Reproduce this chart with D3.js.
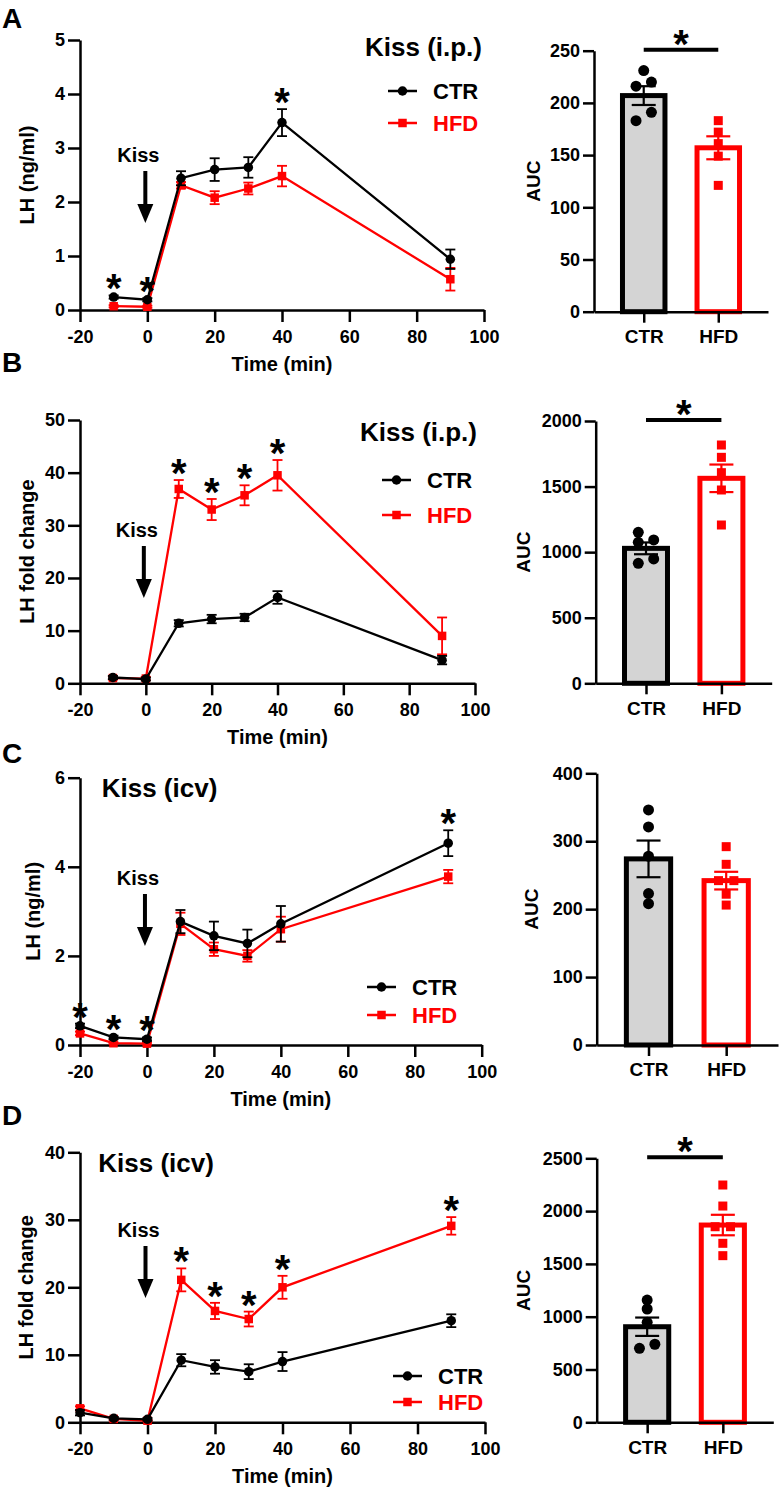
<!DOCTYPE html>
<html>
<head>
<meta charset="utf-8">
<script src="https://cdn.jsdelivr.net/npm/d3@7"></script>
<style>
  body { margin: 0; background: #fff; }
  text { font-family: "Liberation Sans", Arial, sans-serif; font-weight: bold; }
</style>
</head>
<body>
<div id="chart"></div>
<script>
// ---------- data ----------
const groups = ["CTR", "HFD"];
const xTicks = [-20, 0, 20, 40, 60, 80, 100];

// A: LH (ng/ml), Kiss i.p.
const timeA = [-10, 0, 10, 20, 30, 40, 90];
const ctrA = [0.24, 0.19, 2.44, 2.60, 2.64, 3.47, 0.94];
const ctrA_sem = [0.03, 0.03, 0.13, 0.21, 0.19, 0.25, 0.18];
const hfdA = [0.07, 0.06, 2.31, 2.08, 2.25, 2.48, 0.57];
const hfdA_sem = [0.02, 0.02, 0.06, 0.12, 0.11, 0.19, 0.21];
const starsA = [-10, 0, 40];
const yTicksA = [0, 1, 2, 3, 4, 5];
const aucCtrA = [231, 220, 216, 191, 183];
const aucHfdA = [183, 172, 161, 149, 121];
const aucMeanA = [207, 157];
const aucSemA = [9, 11];
const aucTicksA = [0, 50, 100, 150, 200, 250];

// B: LH fold change, Kiss i.p.
const timeB = [-10, 0, 10, 20, 30, 40, 90];
const ctrB = [1.1, 0.8, 11.4, 12.2, 12.5, 16.3, 4.4];
const ctrB_sem = [0.3, 0.3, 0.6, 0.8, 0.7, 1.2, 0.8];
const hfdB = [1.0, 0.9, 36.9, 33.0, 35.7, 39.5, 9.0];
const hfdB_sem = [0.3, 0.3, 1.7, 2.0, 1.9, 2.9, 3.5];
const starsB = [10, 20, 30, 40];
const yTicksB = [0, 10, 20, 30, 40, 50];
const aucCtrB = [1151, 1093, 1075, 948, 915];
const aucHfdB = [1817, 1723, 1606, 1474, 1207];
const aucMeanB = [1029, 1563];
const aucSemB = [45, 105];
const aucTicksB = [0, 500, 1000, 1500, 2000];

// C: LH (ng/ml), Kiss icv
const timeC = [-20, -10, 0, 10, 20, 30, 40, 90];
const ctrC = [0.43, 0.17, 0.13, 2.77, 2.45, 2.28, 2.72, 4.53];
const ctrC_sem = [0.05, 0.04, 0.04, 0.26, 0.32, 0.31, 0.40, 0.29];
const hfdC = [0.26, 0.04, 0.03, 2.72, 2.15, 2.00, 2.60, 3.78];
const hfdC_sem = [0.04, 0.02, 0.02, 0.25, 0.15, 0.13, 0.28, 0.15];
const starsC = [-20, -10, 0, 90];
const yTicksC = [0, 2, 4, 6];
const aucCtrC = [346, 321, 278, 223, 208];
const aucHfdC = [292, 266, 242, 242, 222, 206];
const aucMeanC = [274, 242];
const aucSemC = [27, 13];
const aucTicksC = [0, 100, 200, 300, 400];

// D: LH fold change, Kiss icv
const timeD = [-20, -10, 0, 10, 20, 30, 40, 90];
const ctrD = [1.42, 0.59, 0.44, 9.2, 8.2, 7.5, 9.0, 15.05];
const ctrD_sem = [0.4, 0.2, 0.2, 0.9, 1.0, 1.1, 1.4, 0.95];
const hfdD = [2.07, 0.5, 0.24, 21.1, 16.5, 15.3, 20.0, 29.1];
const hfdD_sem = [0.3, 0.2, 0.1, 1.7, 1.2, 1.1, 1.7, 1.3];
const starsD = [10, 20, 30, 40, 90];
const yTicksD = [0, 10, 20, 30, 40];
const aucCtrD = [1158, 1073, 947, 739, 701];
const aucHfdD = [2247, 2048, 1852, 1852, 1695, 1578];
const aucMeanD = [905, 1868];
const aucSemD = [87, 97];
const aucTicksD = [0, 500, 1000, 1500, 2000, 2500];

// ---------- drawing ----------
const RED = "#ff0000";
const plain = d => String(d);   // "-20", "2000" like the original
const svg = d3.select("#chart").append("svg")
  .attr("width", 780).attr("height", 1490)
  .style("background", "#fff");

function styleAxis(sel) {
  sel.select(".domain").attr("stroke", "#000").attr("stroke-width", 2.5);
  sel.selectAll(".tick line").attr("stroke", "#000").attr("stroke-width", 2.5);
  sel.selectAll(".tick text")
    .attr("fill", "#000")
    .style("font-size", "18px")
    .style("font-family", "'Liberation Sans', Arial, sans-serif")
    .style("font-weight", "bold");
}

function star(g, cx, cy) {
  g.append("text")
    .attr("x", cx).attr("y", cy + 22)
    .attr("text-anchor", "middle")
    .style("font-size", "40px")
    .text("*");
}

function marker(g, shape, cx, cy, color, size) {
  if (shape === "circle") {
    g.append("circle").attr("cx", cx).attr("cy", cy).attr("r", size / 2).attr("fill", color);
  } else {
    g.append("rect").attr("x", cx - size / 2).attr("y", cy - size / 2)
      .attr("width", size).attr("height", size).attr("fill", color);
  }
}

function linePanel(p) {
  const x = d3.scaleLinear().domain([-20, 100]).range([80, p.right]);
  const y = d3.scaleLinear().domain([0, p.yMax]).range([p.bottom, p.top]);
  const g = svg.append("g");

  g.append("g").attr("transform", `translate(0,${p.bottom})`)
    .call(d3.axisBottom(x).tickValues(xTicks).tickFormat(plain).tickSize(12).tickPadding(8).tickSizeOuter(0))
    .call(styleAxis);
  g.append("g").attr("transform", "translate(80,0)")
    .call(d3.axisLeft(y).tickValues(p.yTicks).tickFormat(plain).tickSize(12).tickPadding(3).tickSizeOuter(0))
    .call(styleAxis);

  const series = [
    { vals: p.hfd, errs: p.hfdErr, color: RED, shape: "square" },
    { vals: p.ctr, errs: p.ctrErr, color: "#000", shape: "circle" }
  ];
  series.forEach(s => {
    const pts = p.times.map((t, i) => ({ t, v: s.vals[i], e: s.errs[i] }));
    const eb = g.append("g").attr("stroke", s.color).attr("stroke-width", 1.8);
    pts.forEach(d => {
      const cx = x(d.t), y1 = y(Math.max(0, d.v - d.e)), y2 = y(d.v + d.e);
      eb.append("line").attr("x1", cx).attr("x2", cx).attr("y1", y1).attr("y2", y2);
      eb.append("line").attr("x1", cx - 5).attr("x2", cx + 5).attr("y1", y1).attr("y2", y1);
      eb.append("line").attr("x1", cx - 5).attr("x2", cx + 5).attr("y1", y2).attr("y2", y2);
    });
    g.append("path").datum(pts)
      .attr("fill", "none").attr("stroke", s.color).attr("stroke-width", 2.3)
      .attr("d", d3.line().x(d => x(d.t)).y(d => y(d.v)));
    pts.forEach(d => marker(g, s.shape, x(d.t), y(d.v), s.color, s.shape === "circle" ? 9.5 : 8.5));
  });

  // significance stars above the highest error bar
  p.stars.forEach(t => {
    const i = p.times.indexOf(t);
    const top = Math.min(y(p.ctr[i] + p.ctrErr[i]), y(p.hfd[i] + p.hfdErr[i]));
    star(g, x(t), top - 15);
  });

  // Kiss arrow
  const ax = x(0) - 2;
  g.append("text").attr("x", x(0) - 9).attr("y", p.kissY).attr("dy", "0.35em")
    .attr("text-anchor", "middle").style("font-size", "20px").text("Kiss");
  g.append("line").attr("x1", ax).attr("x2", ax)
    .attr("y1", p.kissY + 16).attr("y2", p.kissY + 52)
    .attr("stroke", "#000").attr("stroke-width", 4);
  g.append("path")
    .attr("d", `M${ax - 8},${p.kissY + 49}L${ax + 8},${p.kissY + 49}L${ax},${p.kissY + 68}Z`)
    .attr("fill", "#000");

  // title
  g.append("text").attr("x", p.titleX).attr("y", p.titleY).attr("dy", "0.35em")
    .attr("text-anchor", p.titleAnchor).style("font-size", "26px").text(p.title);

  // legend
  const leg = [["CTR", "#000", "circle"], ["HFD", RED, "square"]];
  leg.forEach((l, i) => {
    const ly = p.legY + i * p.legGap;
    g.append("line").attr("x1", p.legX).attr("x2", p.legX + 29).attr("y1", ly).attr("y2", ly)
      .attr("stroke", l[1]).attr("stroke-width", 2.5);
    marker(g, l[2], p.legX + 14.5, ly, l[1], l[2] === "circle" ? 9.5 : 8.5);
    g.append("text").attr("x", p.legX + 45).attr("y", ly).attr("dy", "0.36em")
      .attr("fill", l[1]).style("font-size", "22px").text(l[0]);
  });

  // axis titles
  g.append("text").attr("transform", `translate(${p.ylabX},${(p.top + p.bottom) / 2}) rotate(-90)`)
    .attr("dy", "0.35em").attr("text-anchor", "middle").style("font-size", "20px").text(p.ylabel);
  g.append("text").attr("x", (80 + p.right) / 2).attr("y", p.bottom + 54).attr("dy", "0.35em")
    .attr("text-anchor", "middle").style("font-size", "20px").text("Time (min)");

  // panel letter
  g.append("text").attr("x", 2).attr("y", p.letterY).style("font-size", "28px").text(p.letter);
}

// spread overlapping dots sideways like a column scatter
function spread(vals, y) {
  const order = vals.map((v, i) => i).sort((a, b) => vals[b] - vals[a]);
  const off = new Array(vals.length).fill(0);
  let cluster = [order[0]];
  const flush = () => {
    const k = cluster.length;
    if (k > 1) cluster.forEach((idx, j) => { off[idx] = ((k - 1 - j) % 2 === 0 ? -1 : 1) * 7.7; });
  };
  for (let j = 1; j < order.length; j++) {
    const prev = order[j - 1], cur = order[j];
    if (Math.abs(y(vals[cur]) - y(vals[prev])) < 8.5) cluster.push(cur);
    else { flush(); cluster = [cur]; }
  }
  flush();
  return off;
}

function barPanel(p) {
  const x = d3.scalePoint().domain(groups).range([p.left, p.right]).padding(0.667);
  const y = d3.scaleLinear().domain([0, p.yMax]).range([p.bottom, p.top]);
  const g = svg.append("g");
  const bw = 0.57 * x.step();

  const defs = [
    { name: "CTR", pts: p.ctrPts, mean: p.mean[0], sem: p.sem[0], color: "#000", fill: "#d4d4d4", shape: "circle" },
    { name: "HFD", pts: p.hfdPts, mean: p.mean[1], sem: p.sem[1], color: RED, fill: "#fff", shape: "square" }
  ];
  defs.forEach(d => {
    const cx = x(d.name);
    g.append("rect").attr("x", cx - bw / 2).attr("y", y(d.mean))
      .attr("width", bw).attr("height", p.bottom - y(d.mean))
      .attr("fill", d.fill).attr("stroke", d.color).attr("stroke-width", 5);
  });

  g.append("g").attr("transform", `translate(0,${p.bottom})`)
    .call(d3.axisBottom(x).tickSize(11).tickPadding(7).tickSizeOuter(0))
    .call(styleAxis)
    .selectAll(".tick text").style("font-size", "19px");
  g.append("g").attr("transform", `translate(${p.left},0)`)
    .call(d3.axisLeft(y).tickValues(p.yTicks).tickFormat(plain).tickSize(11).tickPadding(3).tickSizeOuter(0))
    .call(styleAxis);

  defs.forEach(d => {
    const cx = x(d.name);
    const off = spread(d.pts, y);
    d.pts.forEach((v, i) => marker(g, d.shape, cx + off[i], y(v), d.color, d.shape === "circle" ? 11 : 9));
    const y1 = y(d.mean - d.sem), y2 = y(d.mean + d.sem);
    const eb = g.append("g").attr("stroke", d.color).attr("stroke-width", 2.2);
    eb.append("line").attr("x1", cx).attr("x2", cx).attr("y1", y1).attr("y2", y2);
    eb.append("line").attr("x1", cx - 12).attr("x2", cx + 12).attr("y1", y1).attr("y2", y1);
    eb.append("line").attr("x1", cx - 12).attr("x2", cx + 12).attr("y1", y2).attr("y2", y2);
  });

  if (p.sig) {
    const ly = y(p.yMax) - 1;
    g.append("line").attr("x1", x("CTR")).attr("x2", x("HFD")).attr("y1", ly).attr("y2", ly)
      .attr("stroke", "#000").attr("stroke-width", 4);
    star(g, (x("CTR") + x("HFD")) / 2, ly - 14);
  }

  g.append("text").attr("transform", `translate(${p.aucX},${(p.top + p.bottom) / 2}) rotate(-90)`)
    .attr("dy", "0.35em").attr("text-anchor", "middle").style("font-size", "19px").text("AUC");
}

// ---------- panels ----------
linePanel({ letter: "A", letterY: 28, right: 484, top: 40, bottom: 310, yMax: 5, yTicks: yTicksA,
  times: timeA, ctr: ctrA, ctrErr: ctrA_sem, hfd: hfdA, hfdErr: hfdA_sem, stars: starsA,
  ylabel: "LH (ng/ml)", ylabX: 27, title: "Kiss (i.p.)", titleX: 482, titleY: 47, titleAnchor: "end",
  legX: 388, legY: 91, legGap: 32, kissY: 155 });
barPanel({ left: 594, right: 768, top: 50.7, bottom: 311.7, yMax: 250, yTicks: aucTicksA,
  ctrPts: aucCtrA, hfdPts: aucHfdA, mean: aucMeanA, sem: aucSemA, sig: true, aucX: 533 });

linePanel({ letter: "B", letterY: 372, right: 475, top: 420, bottom: 683.3, yMax: 50, yTicks: yTicksB,
  times: timeB, ctr: ctrB, ctrErr: ctrB_sem, hfd: hfdB, hfdErr: hfdB_sem, stars: starsB,
  ylabel: "LH fold change", ylabX: 27, title: "Kiss (i.p.)", titleX: 477, titleY: 432, titleAnchor: "end",
  legX: 382, legY: 480, legGap: 35, kissY: 530 });
barPanel({ left: 595.7, right: 771.7, top: 421, bottom: 683.3, yMax: 2000, yTicks: aucTicksB,
  ctrPts: aucCtrB, hfdPts: aucHfdB, mean: aucMeanB, sem: aucSemB, sig: true, aucX: 523 });

linePanel({ letter: "C", letterY: 763, right: 481.7, top: 777.7, bottom: 1045, yMax: 6, yTicks: yTicksC,
  times: timeC, ctr: ctrC, ctrErr: ctrC_sem, hfd: hfdC, hfdErr: hfdC_sem, stars: starsC,
  ylabel: "LH (ng/ml)", ylabX: 33, title: "Kiss (icv)", titleX: 101.7, titleY: 788, titleAnchor: "start",
  legX: 367, legY: 987, legGap: 28, kissY: 878 });
barPanel({ left: 596.7, right: 778, top: 773.3, bottom: 1045, yMax: 400, yTicks: aucTicksC,
  ctrPts: aucCtrC, hfdPts: aucHfdC, mean: aucMeanC, sem: aucSemC, sig: false, aucX: 531.7 });

linePanel({ letter: "D", letterY: 1125, right: 485, top: 1152.3, bottom: 1422.3, yMax: 40, yTicks: yTicksD,
  times: timeD, ctr: ctrD, ctrErr: ctrD_sem, hfd: hfdD, hfdErr: hfdD_sem, stars: starsD,
  ylabel: "LH fold change", ylabX: 26, title: "Kiss (icv)", titleX: 98.3, titleY: 1163, titleAnchor: "start",
  legX: 393, legY: 1376, legGap: 26, kissY: 1230 });
barPanel({ left: 596.7, right: 773.3, top: 1158.3, bottom: 1422.3, yMax: 2500, yTicks: aucTicksD,
  ctrPts: aucCtrD, hfdPts: aucHfdD, mean: aucMeanD, sem: aucSemD, sig: true, aucX: 523.3 });
</script>
</body>
</html>
